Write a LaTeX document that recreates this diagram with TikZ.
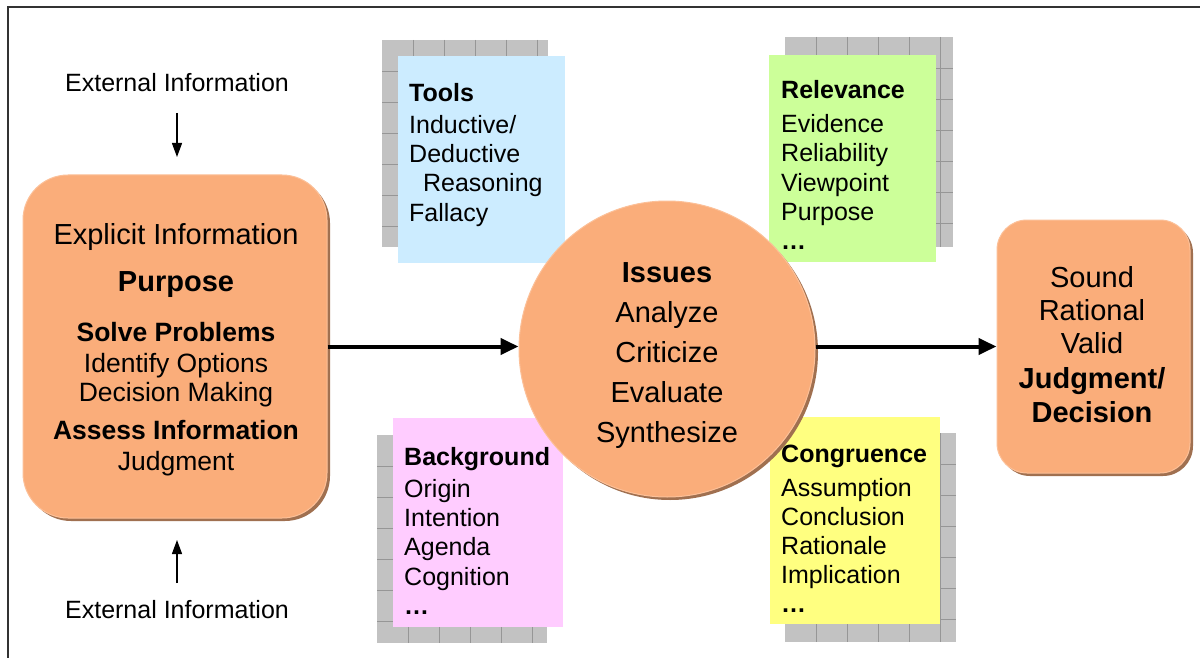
\documentclass[tikz,border=0pt]{standalone}
\usepackage{fontspec}
\setmainfont{Liberation Sans}
\usetikzlibrary{arrows.meta,shadows}
\definecolor{orng}{RGB}{250,173,122}
\definecolor{orngshadow}{RGB}{160,112,80}
\definecolor{orngedge}{RGB}{252,192,152}
\definecolor{tblue}{RGB}{204,236,255}
\definecolor{tgreen}{RGB}{204,255,153}
\definecolor{tpink}{RGB}{255,204,255}
\definecolor{tyellow}{RGB}{255,255,128}
\definecolor{patgrey}{RGB}{194,194,194}
\definecolor{patline}{RGB}{150,150,150}
\definecolor{framec}{RGB}{50,50,50}
\newcommand\gridbox[4]{%
  \fill[patgrey] (#1,#2) rectangle (#3,#4);
  \begin{scope}
    \clip (#1,#2) rectangle (#3,#4);
    \foreach \k in {1,...,7}{
      \draw[patline, line width=0.8pt] ({#1+31*\k},#2) -- ({#1+31*\k},#4);
      \draw[patline, line width=0.8pt] (#1,{#2+31*\k}) -- (#3,{#2+31*\k});
    }
  \end{scope}}
\begin{document}
\begin{tikzpicture}[x=1pt,y=-1pt,
  orshadow/.style={drop shadow={shadow xshift=3pt, shadow yshift=-3pt, fill=orngshadow, opacity=1}},
  bigbox/.style={rectangle, fill=orng, draw=orngedge, line width=1pt, inner sep=0pt, orshadow},
  note/.style={rectangle, inner sep=0pt, anchor=north west},
  txt/.style={anchor=base west, inner sep=0pt, font=\fontsize{25}{29}\selectfont},
  ctxt/.style={anchor=base, inner sep=0pt},
  bigarrow/.style={line width=4pt, -{Triangle[length=18pt,width=16pt]}},
  smallarrow/.style={line width=1.3pt, -{Triangle[length=14pt,width=10pt]}}
]
\useasboundingbox (0,0) rectangle (1200,658);
\fill[white] (0,0) rectangle (1200,658);
% frame
\draw[framec, line width=2pt] (8,660) -- (8,7) -- (1202,7);

% patterned shadows and note boxes
\gridbox{382}{40}{548}{247}
\node[note, fill=tblue, minimum width=167pt, minimum height=207pt] (tools) at (398,56) {};
\gridbox{785}{37}{953}{247}
\node[note, fill=tgreen, minimum width=167pt, minimum height=207pt] (relev) at (769,55) {};
\gridbox{377}{435}{547}{643}
\node[note, fill=tpink, minimum width=170pt, minimum height=209pt] (backg) at (393,418) {};
\gridbox{785}{433}{956}{642}
\node[note, fill=tyellow, minimum width=170pt, minimum height=207pt] (congr) at (770,417) {};

% main shapes
\node[bigbox, rounded corners=45pt, minimum width=304pt, minimum height=343pt] (left) at (175,346.5) {};
\node[bigbox, rounded corners=30pt, minimum width=193pt, minimum height=253pt] (right) at (1093.5,346.5) {};
\node[circle, fill=orng, draw=orngedge, line width=1pt, inner sep=0pt, minimum size=296pt, orshadow] (circ) at (667,349) {};

% connectors
\draw[bigarrow] (left.east) -- (left.east -| circ.west);
\draw[bigarrow] (circ.east |- right.west) -- (right.west);

% external information
\node[ctxt, font=\fontsize{25}{29}\selectfont] (ext1) at (177,92) {External Information};
\node[ctxt, font=\fontsize{25}{29}\selectfont] (ext2) at (177,618) {External Information};
\coordinate (a1s) at (177,113);
\coordinate (a1e) at (177,157);
\coordinate (a2s) at (177,583);
\coordinate (a2e) at (177,540);
\draw[smallarrow] (a1s) -- (a1e);
\draw[smallarrow] (a2s) -- (a2e);

% left box text
\node[ctxt, font=\fontsize{29}{34}\selectfont] (l1) at (176,244) {Explicit Information};
\node[ctxt, font=\fontsize{29}{34}\selectfont\bfseries] (l2) at (176,291) {Purpose};
\node[ctxt, font=\fontsize{26.5}{30}\selectfont\bfseries] (l3) at (176,341.5) {Solve Problems};
\node[ctxt, font=\fontsize{26.5}{30}\selectfont] (l4) at (176,372.5) {Identify Options};
\node[ctxt, font=\fontsize{26.5}{30}\selectfont] (l5) at (176,401.5) {Decision Making};
\node[ctxt, font=\fontsize{26.5}{30}\selectfont\bfseries] (l6) at (176,439.5) {Assess Information};
\node[ctxt, font=\fontsize{26.5}{30}\selectfont] (l7) at (176,470.5) {Judgment};

% circle text
\node[ctxt, font=\fontsize{29}{34}\selectfont\bfseries] (c1) at (667,282) {Issues};
\node[ctxt, font=\fontsize{29}{34}\selectfont] (c2) at (667,322) {Analyze};
\node[ctxt, font=\fontsize{29}{34}\selectfont] (c3) at (667,362) {Criticize};
\node[ctxt, font=\fontsize{29}{34}\selectfont] (c4) at (667,402) {Evaluate};
\node[ctxt, font=\fontsize{29}{34}\selectfont] (c5) at (667,442) {Synthesize};

% right box text
\node[ctxt, font=\fontsize{29}{34}\selectfont] (r1) at (1092,287) {Sound};
\node[ctxt, font=\fontsize{29}{34}\selectfont] (r2) at (1092,320) {Rational};
\node[ctxt, font=\fontsize{29}{34}\selectfont] (r3) at (1092,353) {Valid};
\node[ctxt, font=\fontsize{29}{34}\selectfont\bfseries] (r4) at (1092,388) {Judgment/};
\node[ctxt, font=\fontsize{29}{34}\selectfont\bfseries] (r5) at (1092,422) {Decision};

% tools text
\node[txt, font=\fontsize{25}{29}\selectfont\bfseries] (t1) at (409,102) {Tools};
\node[txt] (t2) at (409,134) {Inductive/};
\node[txt] (t3) at (409,163) {Deductive};
\node[txt] (t4) at (409,192) {\ \ Reasoning};
\node[txt] (t5) at (409,221) {Fallacy};

% relevance text
\node[txt, font=\fontsize{25}{29}\selectfont\bfseries] (v1) at (781,99) {Relevance};
\node[txt] (v2) at (781,133) {Evidence};
\node[txt] (v3) at (781,162) {Reliability};
\node[txt] (v4) at (781,191) {Viewpoint};
\node[txt] (v5) at (781,220) {Purpose};
\node[txt, font=\fontsize{25}{29}\selectfont\bfseries] (v6) at (781,249) {…};

% background text
\node[txt, font=\fontsize{25}{29}\selectfont\bfseries] (b1) at (404,465) {Background};
\node[txt] (b2) at (404,497) {Origin};
\node[txt] (b3) at (404,526) {Intention};
\node[txt] (b4) at (404,555) {Agenda};
\node[txt] (b5) at (404,585) {Cognition};
\node[txt, font=\fontsize{25}{29}\selectfont\bfseries] (b6) at (404,614) {…};

% congruence text
\node[txt, font=\fontsize{25}{29}\selectfont\bfseries] (g1) at (781,462) {Congruence};
\node[txt] (g2) at (781,496) {Assumption};
\node[txt] (g3) at (781,525) {Conclusion};
\node[txt] (g4) at (781,554) {Rationale};
\node[txt] (g5) at (781,583) {Implication};
\node[txt, font=\fontsize{25}{29}\selectfont\bfseries] (g6) at (781,612) {…};
\end{tikzpicture}
\end{document}
